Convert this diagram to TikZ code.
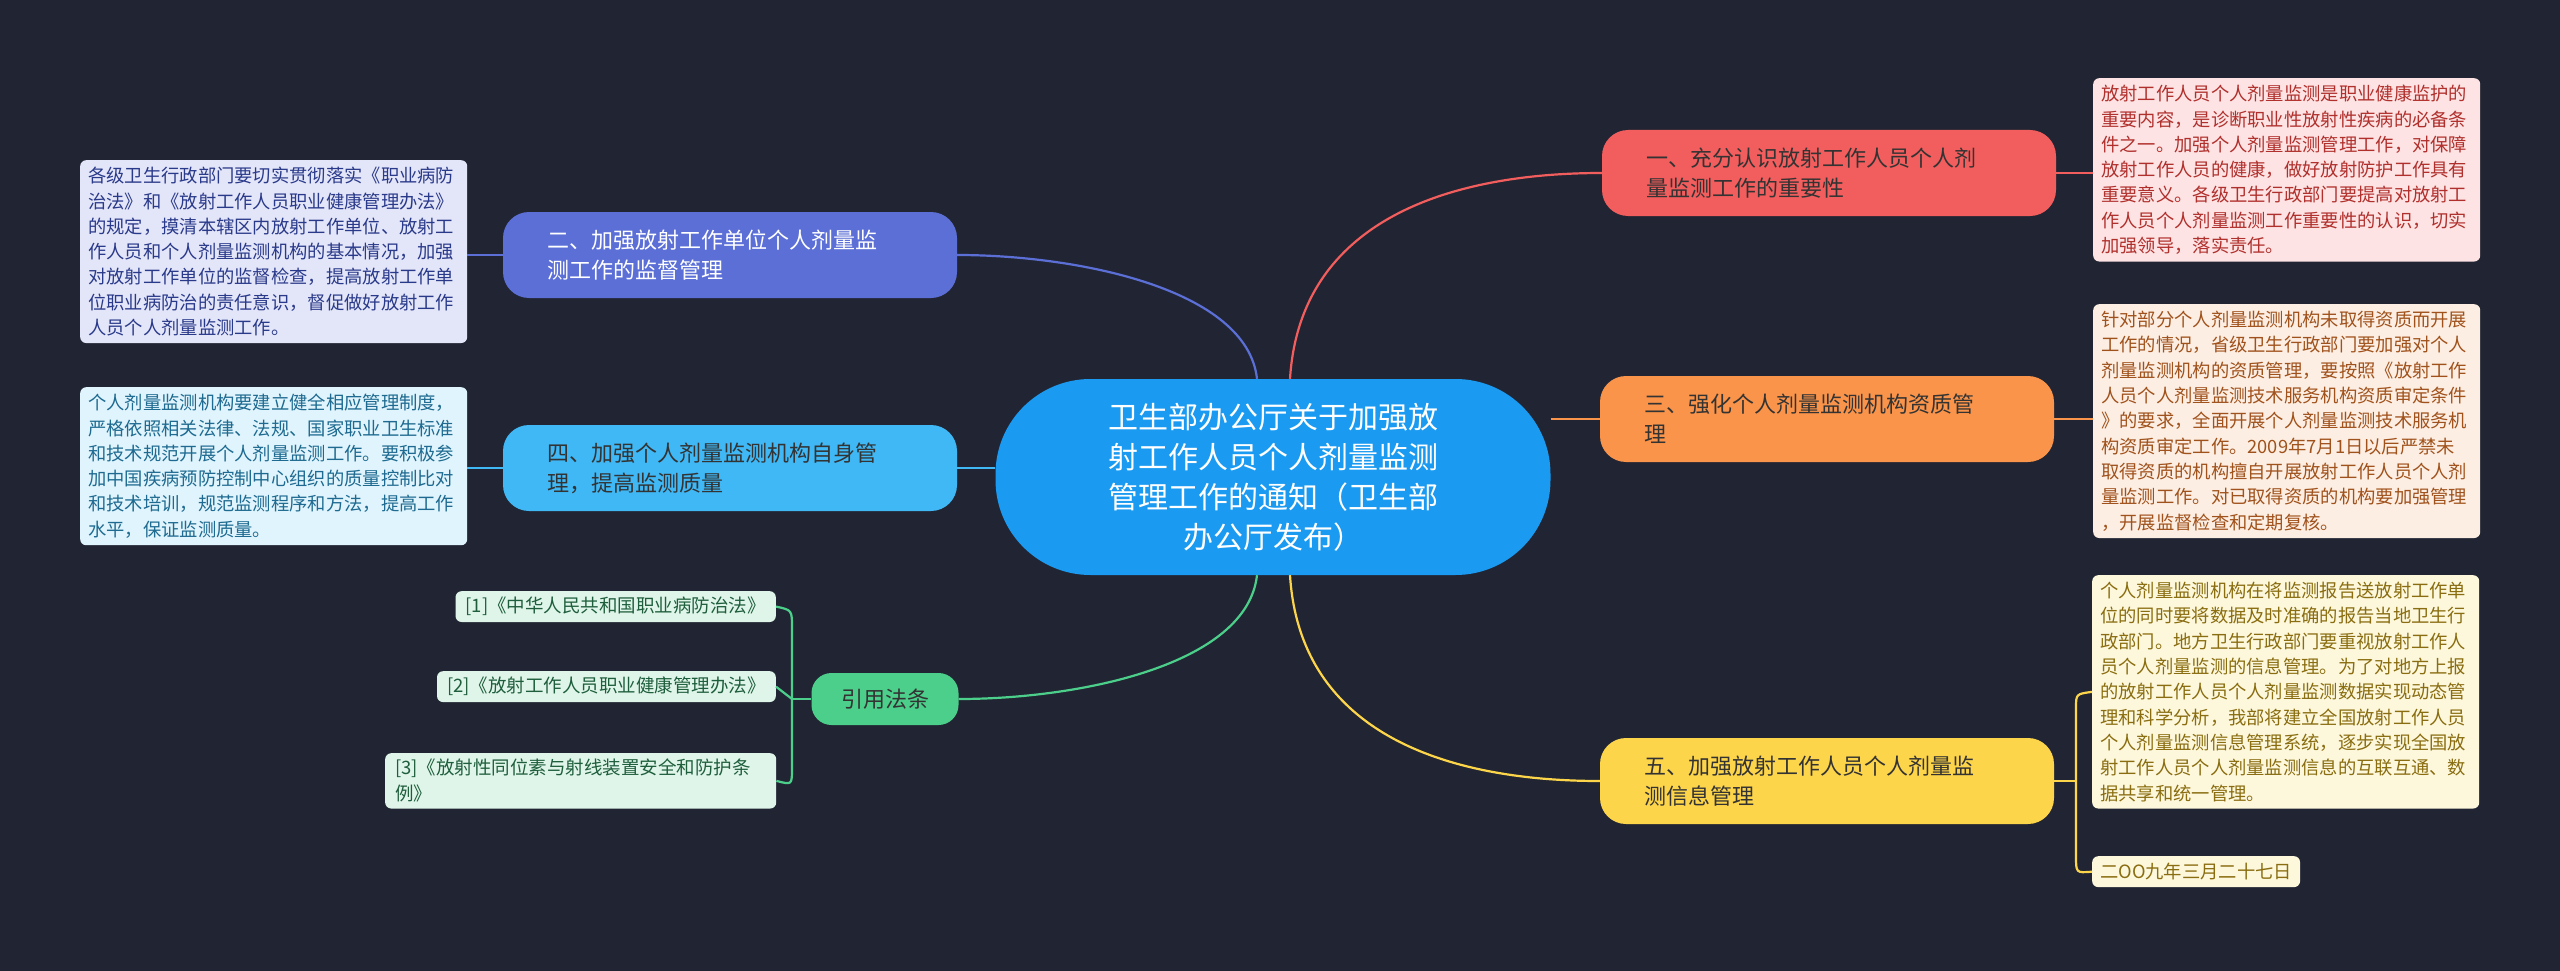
\documentclass[tikz,border=0pt]{standalone}
\usepackage{fontspec}
\setmainfont{Noto Sans CJK SC}
\usetikzlibrary{calc}
\definecolor{bg}{HTML}{212533}
\definecolor{cc}{HTML}{1A9AF0}
\definecolor{r1}{HTML}{F25D5D}\definecolor{r1f}{HTML}{FDE3E3}\definecolor{r1t}{HTML}{B0302D}
\definecolor{o1}{HTML}{F9944A}\definecolor{o1f}{HTML}{FDEEE3}\definecolor{o1t}{HTML}{A0521C}
\definecolor{y1}{HTML}{FDD54A}\definecolor{y1f}{HTML}{FDF8DC}\definecolor{y1t}{HTML}{8A6D10}
\definecolor{b1}{HTML}{5B6FD6}\definecolor{b1f}{HTML}{E3E5F8}\definecolor{b1t}{HTML}{2A3A8A}
\definecolor{l1}{HTML}{3FB8F5}\definecolor{l1f}{HTML}{DFF4FD}\definecolor{l1t}{HTML}{1E6A90}
\definecolor{g1}{HTML}{4CCF8A}\definecolor{g1f}{HTML}{DFF5E9}\definecolor{g1t}{HTML}{1F5E3C}
\begin{document}
\begin{tikzpicture}[x=1pt,y=-1pt,
 branch/.style={rounded corners=26pt,minimum height=86pt,minimum width=454pt,inner xsep=44pt,font=\fontsize{22}{30}\selectfont,align=left,text width=366pt},
 detail/.style={rounded corners=6pt,inner xsep=8pt,inner ysep=7pt,font=\fontsize{18.3}{25.3}\selectfont,align=left,anchor=north west},
 dbox/.style={detail,text width=371pt},
 refbox/.style={rounded corners=6pt,inner xsep=10pt,inner ysep=6pt,font=\fontsize{18.5}{26}\selectfont,align=left,fill=g1f,text=g1t,anchor=north east},
 conn/.style={line width=2.2pt}]
\fill[bg] (0,0) rectangle (2560,971);
\useasboundingbox (0,0) rectangle (2560,971);
% center
\node[fill=cc,rounded corners=95pt,minimum width=555pt,minimum height=196pt,text=white,align=center,font=\fontsize{30}{40}\selectfont] (c) at (1273,477) {卫生部办公厅关于加强放\\射工作人员个人剂量监测\\管理工作的通知（卫生部\\办公厅发布）};
% branches
\node[branch,fill=r1,text=black!80] (n1) at (1829,173) {一、充分认识放射工作人员个人剂\\量监测工作的重要性};
\node[branch,fill=o1,text=black!80] (n3) at (1827,419) {三、强化个人剂量监测机构资质管\\理};
\node[branch,fill=y1,text=black!80] (n5) at (1827,781) {五、加强放射工作人员个人剂量监\\测信息管理};
\node[branch,fill=b1,text=white] (n2) at (730,255) {二、加强放射工作单位个人剂量监\\测工作的监督管理};
\node[branch,fill=l1,text=black!80] (n4) at (730,468) {四、加强个人剂量监测机构自身管\\理，提高监测质量};
\node[fill=g1,rounded corners=20pt,minimum width=147pt,minimum height=52pt,font=\fontsize{22}{28}\selectfont,text=black!80] (n6) at (885,699) {引用法条};
% details
\node[dbox,fill=r1f,text=r1t] (d1) at (2093,78) {放射工作人员个人剂量监测是职业健康监护的\\重要内容，是诊断职业性放射性疾病的必备条\\件之一。加强个人剂量监测管理工作，对保障\\放射工作人员的健康，做好放射防护工作具有\\重要意义。各级卫生行政部门要提高对放射工\\作人员个人剂量监测工作重要性的认识，切实\\加强领导，落实责任。};
\node[dbox,fill=o1f,text=o1t] (d3) at (2093,304) {针对部分个人剂量监测机构未取得资质而开展\\工作的情况，省级卫生行政部门要加强对个人\\剂量监测机构的资质管理，要按照《放射工作\\人员个人剂量监测技术服务机构资质审定条件\\》的要求，全面开展个人剂量监测技术服务机\\构资质审定工作。2009年7月1日以后严禁未\\取得资质的机构擅自开展放射工作人员个人剂\\量监测工作。对已取得资质的机构要加强管理\\，开展监督检查和定期复核。};
\node[dbox,fill=y1f,text=y1t] (d5) at (2092,575) {个人剂量监测机构在将监测报告送放射工作单\\位的同时要将数据及时准确的报告当地卫生行\\政部门。地方卫生行政部门要重视放射工作人\\员个人剂量监测的信息管理。为了对地方上报\\的放射工作人员个人剂量监测数据实现动态管\\理和科学分析，我部将建立全国放射工作人员\\个人剂量监测信息管理系统，逐步实现全国放\\射工作人员个人剂量监测信息的互联互通、数\\据共享和统一管理。};
\node[detail,fill=y1f,text=y1t] (d6) at (2092,856) {二OO九年三月二十七日};
\node[dbox,fill=b1f,text=b1t] (d2) at (80,160) {各级卫生行政部门要切实贯彻落实《职业病防\\治法》和《放射工作人员职业健康管理办法》\\的规定，摸清本辖区内放射工作单位、放射工\\作人员和个人剂量监测机构的基本情况，加强\\对放射工作单位的监督检查，提高放射工作单\\位职业病防治的责任意识，督促做好放射工作\\人员个人剂量监测工作。};
\node[dbox,fill=l1f,text=l1t] (d4) at (80,387) {个人剂量监测机构要建立健全相应管理制度，\\严格依照相关法律、法规、国家职业卫生标准\\和技术规范开展个人剂量监测工作。要积极参\\加中国疾病预防控制中心组织的质量控制比对\\和技术培训，规范监测程序和方法，提高工作\\水平，保证监测质量。};
% refs
\node[refbox] (f1) at (776,591) {[1]《中华人民共和国职业病防治法》};
\node[refbox] (f2) at (776,671) {[2]《放射工作人员职业健康管理办法》};
\node[refbox,anchor=north west,text width=371pt] (f3) at (385,753) {[3]《放射性同位素与射线装置安全和防护条\\例》};
% connectors
\coordinate (ct1) at ($(c.north)+(17,0)$);
\coordinate (ct2) at ($(c.north)+(-16,0)$);
\coordinate (cb1) at ($(c.south)+(17,0)$);
\coordinate (cb2) at ($(c.south)+(-16,0)$);
\draw[conn,r1] (ct1) .. controls ($(ct1)+(10,-160)$) and ($(n1.west)+(-150,0)$) .. (n1.west);
\draw[conn,b1] (ct2) .. controls ($(ct2)+(-10,-90)$) and ($(n2.east)+(120,0)$) .. (n2.east);
\draw[conn,o1] (c.east|-n3) -- (n3.west);
\draw[conn,l1] (c.west|-n4) -- (n4.east);
\draw[conn,y1] (cb1) .. controls ($(cb1)+(10,160)$) and ($(n5.west)+(-150,0)$) .. (n5.west);
\draw[conn,g1] (cb2) .. controls ($(cb2)+(-10,90)$) and ($(n6.east)+(120,0)$) .. (n6.east);
\draw[conn,r1] (n1.east) -- (d1.west|-n1);
\draw[conn,o1] (n3.east) -- (d3.west|-n3);
\draw[conn,b1] (n2.west) -- (d2.east|-n2);
\draw[conn,l1] (n4.west) -- (d4.east|-n4);
\coordinate (yb) at (2076,781);
\draw[conn,y1] (n5.east) -- (yb);
\draw[conn,y1] (yb) -- (2076,708) .. controls (2076,694) .. (d5.west);
\draw[conn,y1] (yb) -- (2076,856) .. controls (2076,873) .. (d6.west);
\coordinate (gb) at (792,699);
\draw[conn,g1] (n6.west) -- (gb);
\draw[conn,g1] (gb) -- (f2.east);
\draw[conn,g1] (gb) -- (792,628) .. controls (792,610) .. (f1.east);
\draw[conn,g1] (gb) -- (792,768) .. controls (792,785) .. (f3.east);
\end{tikzpicture}
\end{document}
